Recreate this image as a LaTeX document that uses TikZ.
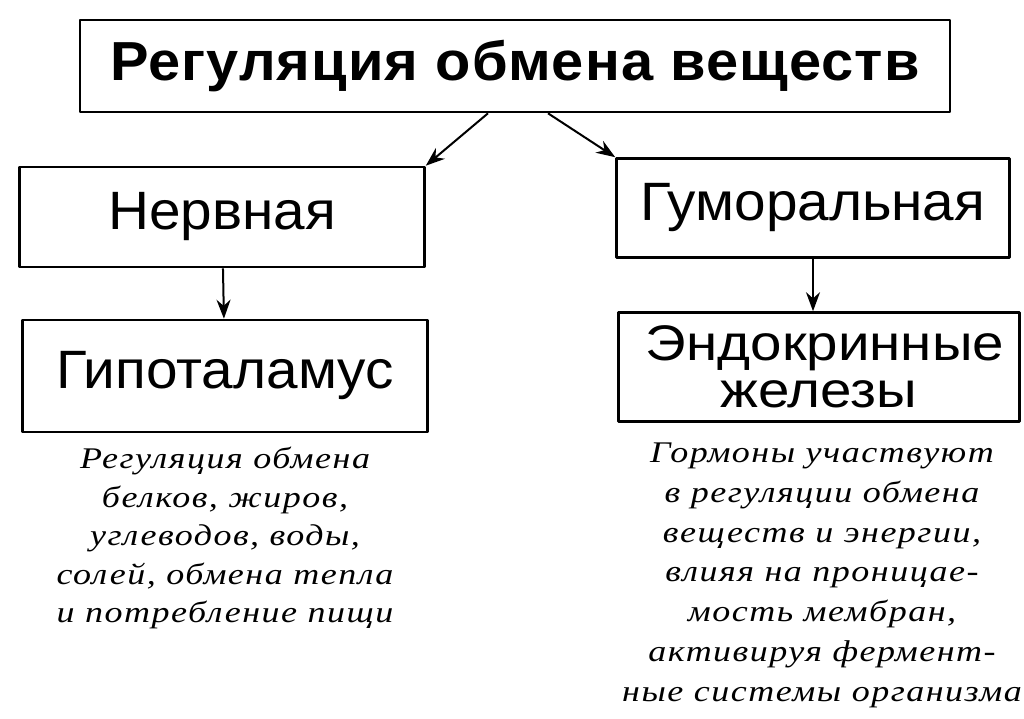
\documentclass[tikz,border=0pt]{standalone}
\usepackage{fontspec}
\usetikzlibrary{arrows.meta}
\setmainfont{Liberation Sans}[FakeStretch=1.05]
\newfontfamily\notefont{Liberation Serif}[FakeStretch=1.2,LetterSpace=5]
\begin{document}
\begin{tikzpicture}[>={Stealth[length=19pt,width=14pt]},line join=round,x=1pt,y=-1pt,
		box/.style={draw,line width=2.6pt,inner sep=0pt,align=center,font=\fontsize{54}{50}\selectfont},
		note/.style={align=center,inner sep=0pt,font=\notefont\itshape\fontsize{30}{38.5}\selectfont},
		link/.style={->,line width=2pt}]
	\useasboundingbox[fill=white] (0,0) rectangle (1024,719);
	% boxes
	\node[box,minimum width=870pt,minimum height=92pt,font=\bfseries\fontsize{55}{50}\selectfont\addfontfeature{LetterSpace=2}] (title) at (515,66) {Регуляция обмена веществ};
	\node[box,minimum width=405pt,minimum height=100pt] (nerv) at (222,217) {Нервная};
	\node[box,minimum width=405pt,minimum height=112pt] (hypo) at (225,376) {Гипоталамус};
	\node[box,minimum width=393pt,minimum height=99pt] (humor) at (813,208) {Гуморальная};
	\node[box,minimum width=401pt,minimum height=109pt,font=\fontsize{50}{47}\selectfont\addfontfeature{FakeStretch=1.13}] (endo) at (819,367) {\hspace*{12pt}Эндокринные\\железы};
	% notes
	\node[note,anchor=north] (hypotext) at (225,447) {Регуляция обмена\\белков, жиров,\\углеводов, воды,\\солей, обмена тепла\\и потребление пищи};
	\node[note,anchor=north,font=\notefont\itshape\fontsize{30}{39.7}\selectfont] (endotext) at (822,443) {Гормоны участвуют\\в регуляции обмена\\веществ и энергии,\\влияя на проницае-\\мость мембран,\\активируя фермент-\\ные системы организма};
	% arrows
	\draw[link] ([xshift=-27pt]title.south) -- (nerv.north east);
	\draw[link] ([xshift=33pt]title.south) -- (humor.north west);
	\draw[link] (nerv) -- (hypo);
	\draw[link] (humor.south) -- (endo.north-|humor.south);
\end{tikzpicture}
\end{document}
